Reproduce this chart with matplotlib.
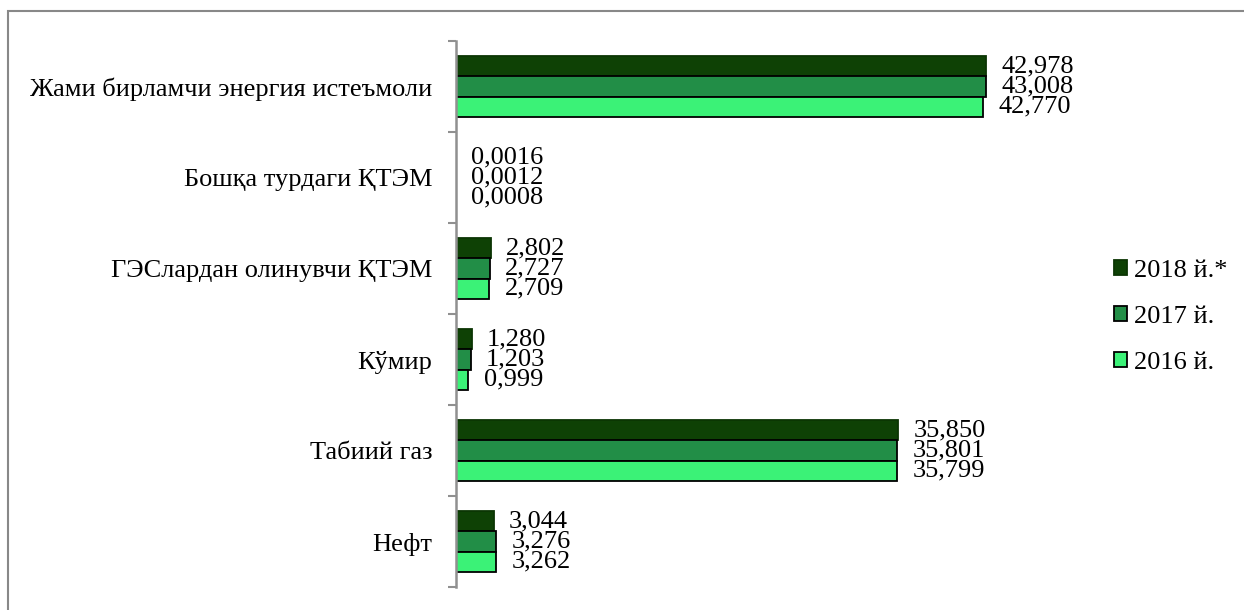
import matplotlib
matplotlib.use("Agg")
import matplotlib.pyplot as plt
from matplotlib.patches import Patch, Rectangle

plt.rcParams['font.family'] = ['Liberation Serif', 'DejaVu Serif']

# categories from bottom to top
categories = ["Нефт", "Табиий газ", "Кўмир", "ГЭСлардан олинувчи ҚТЭМ",
              "Бошқа турдаги ҚТЭМ", "Жами бирламчи энергия истеъмоли"]
years = ["2018 й.*", "2017 й.", "2016 й."]
v2018 = [3.044, 35.850, 1.280, 2.802, 0.0016, 42.978]
v2017 = [3.276, 35.801, 1.203, 2.727, 0.0012, 43.008]
v2016 = [3.262, 35.799, 0.999, 2.709, 0.0008, 42.770]

colors = ["#0e4105", "#228e47", "#3bf277"]
edges = ["#0b3503", "black", "black"]

W, H = 1244, 610
fig = plt.figure(figsize=(W / 100, H / 100), dpi=100)

# axes placed in pixels: spine at x=456, y from 41 to 587
x0, x1 = 456, 456 + 50 * 12.33
y0, y1 = 41, 587
ax = fig.add_axes([x0 / W, 1 - y1 / H, (x1 - x0) / W, (y1 - y0) / H])

fs = 19
h = 0.22
series = [v2018, v2017, v2016]
offsets = [h, 0, -h]

def fmt(v):
    if v < 0.1:
        return f"{v:.4f}".replace(".", ",")
    return f"{v:.3f}".replace(".", ",")

for vals, off, c, ec in zip(series, offsets, colors, edges):
    ys = [i + off for i in range(len(categories))]
    ax.barh(ys, vals, height=h, color=c, edgecolor=ec, linewidth=1.3)
    for y, v in zip(ys, vals):
        ax.annotate(fmt(v), (v, y), xytext=(11, 0), textcoords="offset points",
                    va="center", ha="left", fontsize=fs)

ax.set_xlim(0, 50)
ax.set_ylim(-0.5, len(categories) - 0.5)
ax.set_yticks(range(len(categories)))
ax.set_yticklabels(categories, fontsize=fs)
ax.set_yticks([i - 0.5 for i in range(len(categories) + 1)], minor=True)
ax.tick_params(axis="y", which="major", length=0, pad=17)
ax.tick_params(axis="y", which="minor", length=6, width=1.5, color="#909090")
ax.set_xticks([])
for s in ["top", "right", "bottom"]:
    ax.spines[s].set_visible(False)
ax.spines["left"].set_color("#909090")
ax.spines["left"].set_linewidth(1.8)

handles = [Patch(facecolor=c, edgecolor=ec, linewidth=1.3) for c, ec in zip(colors, edges)]
fig.legend(handles, years, loc="center left", bbox_to_anchor=(1114 / W, 1 - 317 / H),
           frameon=False, fontsize=fs, handlelength=0.5, handleheight=0.5,
           handletextpad=0.25, labelspacing=0.9, borderpad=0, borderaxespad=0)

# outer frame of the chart area
fig.patches.append(Rectangle((8 / W, -0.1), 1.2, 1 - 11 / H + 0.1, transform=fig.transFigure,
                             fill=False, edgecolor="#888888", linewidth=1.5))

fig.savefig("out.png", dpi=100)
